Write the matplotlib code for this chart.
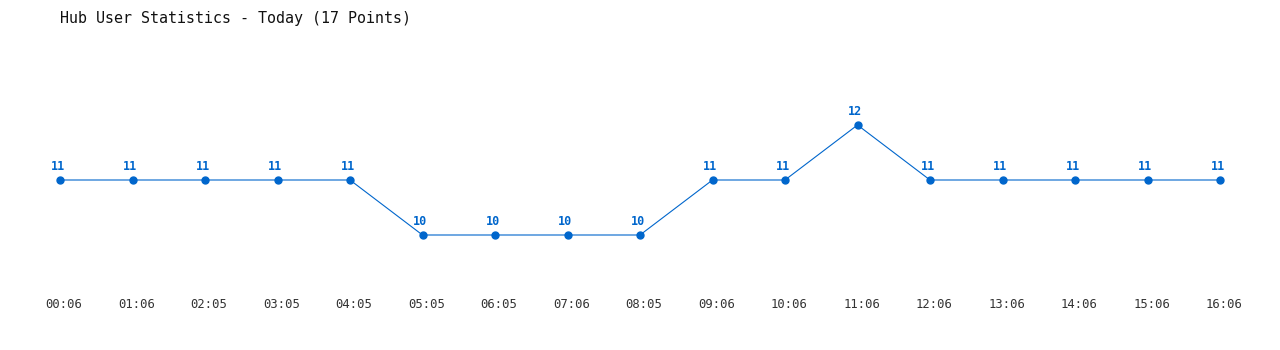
import matplotlib
matplotlib.use('Agg')
import matplotlib.pyplot as plt
from matplotlib.transforms import ScaledTranslation

# hub user counts through the day
times = ['00:06', '01:06', '02:05', '03:05', '04:05', '05:05', '06:05', '07:06', '08:05',
         '09:06', '10:06', '11:06', '12:06', '13:06', '14:06', '15:06', '16:06']
users = [11, 11, 11, 11, 11, 10, 10, 10, 10, 11, 11, 12, 11, 11, 11, 11, 11]

blue = '#0066cc'
mono = 'DejaVu Sans Mono'

fig = plt.figure(figsize=(12.8, 3.5), dpi=100)
ax = fig.add_axes([60 / 1280, 60 / 350, 1160 / 1280, 220 / 350])

x = list(range(len(times)))
ax.plot(x, users, color=blue, linewidth=0.8, marker='o', markersize=5, clip_on=False)

for xi, u in zip(x, users):
    ax.annotate(str(u), (xi, u), textcoords='offset points', xytext=(-1.5, 9.5),
                ha='center', va='center', color=blue, fontsize=8.5,
                fontweight='bold', family=mono)

ax.set_xlim(0, len(times) - 1)
ax.set_ylim(9, 13)
ax.set_xticks(x)
ax.set_xticklabels(times, family=mono, fontsize=8.8, color='#333333')
ax.tick_params(axis='x', length=0, pad=6)
shift = ScaledTranslation(4 / 100, 0, fig.dpi_scale_trans)
for lbl in ax.get_xticklabels():
    lbl.set_transform(lbl.get_transform() + shift)
ax.set_yticks([])
for s in ax.spines.values():
    s.set_visible(False)

fig.text(60 / 1280, 1 - 18 / 350, 'Hub User Statistics - Today (17 Points)',
         family=mono, fontsize=10.8, va='center', ha='left', color='#111111')

fig.savefig('out.png', dpi=100)
